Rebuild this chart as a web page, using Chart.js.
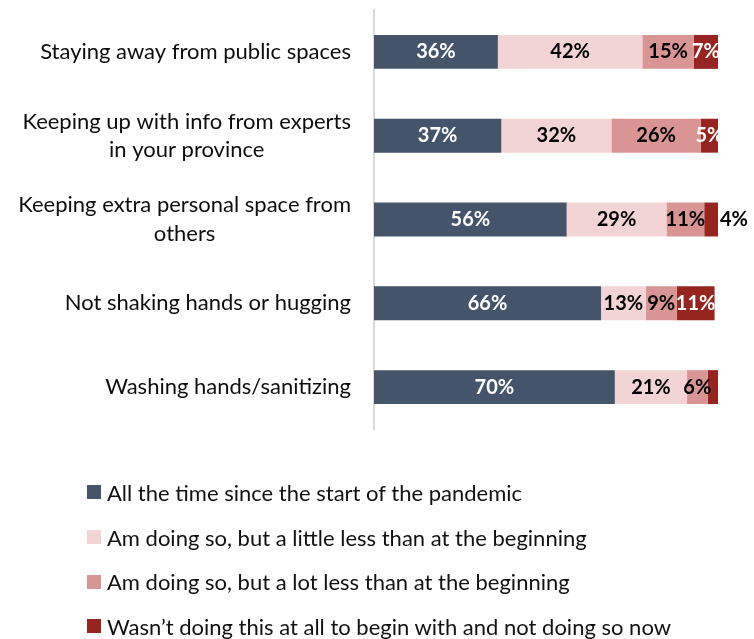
<!DOCTYPE html>
<html>
<head>
<meta charset="utf-8">
<script src="https://cdn.jsdelivr.net/npm/chart.js@4/dist/chart.umd.min.js"></script>
<style>
  html, body { margin: 0; padding: 0; background: #fff; }
  #wrap { position: relative; width: 754px; height: 639px; }
  #legend { position: absolute; left: 87px; top: 470px; margin: 0; padding: 0; list-style: none;
            font-family: Lato, sans-serif; font-size: 22px; color: #111; }
  #legend li { display: flex; align-items: center; height: 44.7px; white-space: nowrap; }
  #legend .swatch { width: 14px; height: 14px; margin-right: 6px; flex: none; }
</style>
</head>
<body>
<div id="wrap">
  <canvas id="chart" width="754" height="639"></canvas>
  <ul id="legend"></ul>
</div>
<script>
const categories = [
  ['Staying away from public spaces'],
  ['Keeping up with info from experts', 'in your province'],
  ['Keeping extra personal space from', 'others'],
  ['Not shaking hands or hugging'],
  ['Washing hands/sanitizing']
];
const seriesNames = [
  'All the time since the start of the pandemic',
  'Am doing so, but a little less than at the beginning',
  'Am doing so, but a lot less than at the beginning',
  'Wasn\u2019t doing this at all to begin with and not doing so now'
];
const allTheTime = [36, 37, 56, 66, 70];
const littleLess = [42, 32, 29, 13, 21];
const lotLess    = [15, 26, 11, 9, 6];
const notDoing   = [7, 5, 4, 11, 3];

const seriesColors = ['#44546A', '#F2D4D5', '#D99594', '#96241F'];
const labelColors  = ['#FFFFFF', '#000000', '#000000', '#FFFFFF'];

const FONT = 'Lato, "Open Sans", sans-serif';
const MIN_SHOWN = 4;   // below this, no value label
const MIN_INSIDE = 5;  // below this, label sits just past the bar end

// category names: right-aligned block, lines centred on the widest line
const categoryLabels = {
  id: 'categoryLabels',
  afterDraw(chart) {
    const ctx = chart.ctx;
    const yScale = chart.scales.y;
    const right = chart.chartArea.left - 23;
    const lh = 28.5;
    ctx.save();
    ctx.font = '22px ' + FONT;
    ctx.fillStyle = '#0D0D0D';
    ctx.textAlign = 'center';
    ctx.textBaseline = 'middle';
    chart.data.labels.forEach(function (lines, i) {
      const w = Math.max.apply(null, lines.map(function (s) { return ctx.measureText(s).width; }));
      const cx = right - w / 2;
      const cy = yScale.getPixelForValue(i);
      lines.forEach(function (s, j) {
        ctx.fillText(s, cx, cy + (j - (lines.length - 1) / 2) * lh);
      });
    });
    ctx.restore();
  }
};

// percentage labels on the segments
const valueLabels = {
  id: 'valueLabels',
  afterDatasetsDraw(chart) {
    const ctx = chart.ctx;
    ctx.save();
    ctx.font = 'bold 20px ' + FONT;
    ctx.textBaseline = 'middle';
    chart.data.datasets.forEach(function (ds, di) {
      chart.getDatasetMeta(di).data.forEach(function (bar, i) {
        const v = ds.data[i];
        if (v < MIN_SHOWN) return;
        const text = v + '%';
        if (v < MIN_INSIDE) {
          ctx.textAlign = 'left';
          ctx.fillStyle = '#000000';
          ctx.fillText(text, bar.x + 2, bar.y);
        } else {
          ctx.textAlign = 'center';
          ctx.fillStyle = labelColors[di];
          ctx.fillText(text, (bar.x + bar.base) / 2, bar.y);
        }
      });
    });
    ctx.restore();
  }
};

const seriesData = [allTheTime, littleLess, lotLess, notDoing];

const chart = new Chart(document.getElementById('chart'), {
  type: 'bar',
  data: {
    labels: categories,
    datasets: seriesData.map(function (d, i) {
      return { label: seriesNames[i], data: d, backgroundColor: seriesColors[i],
               borderWidth: 0, barPercentage: 0.405, categoryPercentage: 1 };
    })
  },
  options: {
    indexAxis: 'y',
    responsive: false,
    animation: false,
    layout: { padding: { top: 10, right: 36, bottom: 210, left: 0 } },
    plugins: { legend: { display: false }, tooltip: { enabled: false } },
    scales: {
      x: { stacked: true, min: 0, max: 100, display: false },
      y: {
        stacked: true,
        grid: { display: false },
        border: { color: '#D9D9D9', width: 2 },
        ticks: { display: false },
        afterFit: function (scale) { scale.width = 374; }
      }
    }
  },
  plugins: [categoryLabels, valueLabels]
});

// legend list built from the datasets
const legendEl = document.getElementById('legend');
chart.data.datasets.forEach(function (ds) {
  const li = document.createElement('li');
  const sw = document.createElement('span');
  sw.className = 'swatch';
  sw.style.background = ds.backgroundColor;
  li.appendChild(sw);
  li.appendChild(document.createTextNode(ds.label));
  legendEl.appendChild(li);
});
</script>
</body>
</html>
